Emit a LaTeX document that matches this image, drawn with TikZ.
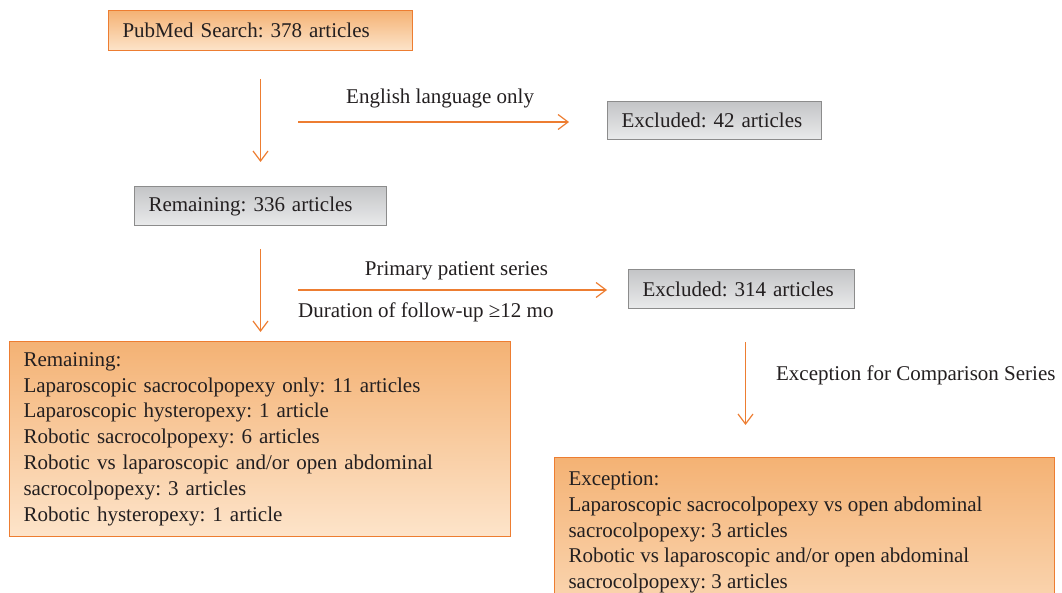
\documentclass[tikz,border=0pt]{standalone}
\usepackage{fontspec}
\setmainfont{Liberation Serif}
\usetikzlibrary{calc,arrows.meta,positioning}
\frenchspacing

\definecolor{lineorange}{RGB}{237,125,49}
\definecolor{orangetop}{RGB}{244,178,116}
\definecolor{orangebot}{RGB}{253,228,202}
\definecolor{graytop}{RGB}{196,197,199}
\definecolor{graybot}{RGB}{233,234,235}
\definecolor{grayline}{RGB}{140,140,140}
\definecolor{textdark}{RGB}{35,31,32}

\begin{document}
\begin{tikzpicture}[x=1pt,y=-1pt,
 every node/.style={font=\fontsize{21}{25.8}\selectfont, text=textdark},
 orange box/.style={draw=lineorange, line width=1pt, top color=orangetop,
    bottom color=orangebot, anchor=north west, align=left, inner xsep=14pt, inner ysep=0pt},
 gray box/.style={draw=grayline, line width=1pt, top color=graytop,
    bottom color=graybot, anchor=north west, align=left, inner xsep=14pt, inner ysep=0pt},
 flow/.style={draw=lineorange, line width=1.2pt, -{Straight Barb[length=10pt,width=15pt]}}]

 \clip (0,0) rectangle (1062,593);

% boxes
 \node[orange box, text width=276pt, minimum height=40pt] (pubmed) at (108,10) {PubMed Search: 378 articles};
 \node[gray box, text width=186pt, minimum height=38pt] (excl42) at (607,101) {Excluded: 42 articles};
 \node[gray box, text width=224pt, minimum height=39pt] (rem336) at (134,186) {Remaining: 336 articles};
 \node[gray box, text width=198pt, minimum height=39pt] (excl314) at (628,269) {Excluded: 314 articles};

 \node[orange box, text width=473pt, minimum height=195pt] (rembox) at (9,341)
   {Remaining:\\
    Laparoscopic sacrocolpopexy only: 11 articles\\
    Laparoscopic hysteropexy: 1 article\\
    Robotic sacrocolpopexy: 6 articles\\
    Robotic vs laparoscopic and/or open abdominal\\
    sacrocolpopexy: 3 articles\\
    Robotic hysteropexy: 1 article};

 \node[orange box, inner ysep=14pt] (excbox) at (554,457)
   {\parbox[t][180pt][t]{472pt}{\raggedright
    Exception:\\
    Laparoscopic sacrocolpopexy vs open abdominal\\
    sacrocolpopexy: 3 articles\\
    Robotic vs laparoscopic and/or open abdominal\\
    sacrocolpopexy: 3 articles}};

% connectors
 \draw[flow, shorten <=28pt, shorten >=24pt] (pubmed.south) -- (rem336.north);

 \coordinate (lang) at (298,122);
 \draw[flow, shorten >=38pt] (lang) -- (lang -| excl42.west)
   node[pos=0.46, above=13pt, inner sep=0pt] (langlabel) {English language only};

 \draw[flow, shorten <=23pt, shorten >=9pt] (rem336.south) -- (rem336.south |- rembox.north);

 \coordinate (prim) at (298,290);
 \draw[flow, shorten >=21pt] (prim) -- (prim -| excl314.west)
   node[pos=0.48, above=9pt, inner sep=0pt] (primlabel) {Primary patient series};
 \node[anchor=north west, inner sep=0pt] (durlabel) at ([yshift=-13pt]prim) {Duration of follow-up ≥12 mo};

 \draw[flow, shorten <=33pt, shorten >=32pt] ([xshift=4pt]excl314.south) -- ([xshift=4pt]excl314.south |- excbox.north)
   node[pos=0.45, right=30pt, inner sep=0pt] (exclabel) {Exception for Comparison Series};

\end{tikzpicture}
\end{document}
